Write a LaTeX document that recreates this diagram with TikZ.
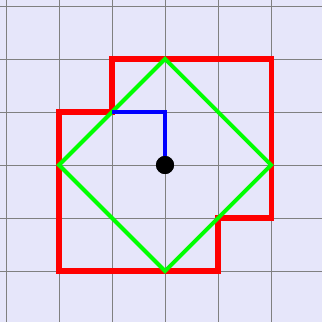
\documentclass[tikz,border=0pt]{standalone}
\usepackage{xcolor}
\definecolor{lavbg}{RGB}{230,230,250}
\definecolor{limegreen}{RGB}{0,255,0}

\begin{document}
\begin{tikzpicture}
            \fill[lavbg] (-3.113,-2.962) rectangle (2.962,3.113);
            \useasboundingbox (-3.113,-2.962) rectangle (2.962,3.113);
            \draw[gray,line width=0.5pt,step=1] (-3.113,-2.962) grid (2.962,3.113);

            \draw[red,line width=2.7pt] (-1,2) -- (2,2) -- (2,-1) -- (1,-1) -- (1,-2) -- (-2,-2) -- (-2,1) -- (-1,1) -- cycle;
            \draw[limegreen,line width=2.1pt] (0,2) -- (2,0) -- (0,-2) -- (-2,0) -- cycle;

            \node[circle,fill=black,inner sep=0pt,minimum size=0.34cm] (o) at (0,0) {};
            \coordinate (a) at (-1,1);
            \coordinate (b) at (0,1);
            \draw[blue,line width=2.1pt] (a) -- (b) -- (o.center);
            \fill[black] (o) circle (0.17);
        \end{tikzpicture}
\end{document}
